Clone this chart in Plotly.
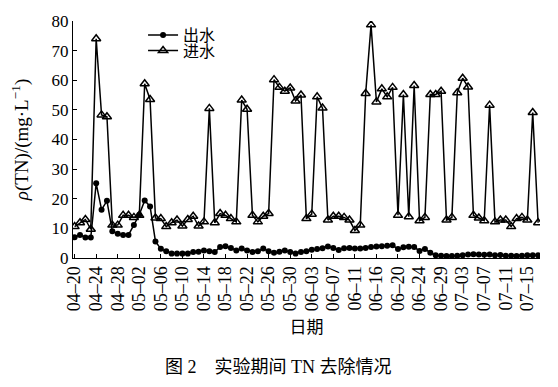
import plotly.graph_objects as go

dates = [
    "04-20", "04-21", "04-22", "04-23", "04-24", "04-25", "04-26", "04-27", "04-28", "04-29", "04-30",
    "05-01", "05-02", "05-03", "05-04", "05-05", "05-06", "05-07", "05-08", "05-09", "05-10",
    "05-11", "05-12", "05-13", "05-14", "05-15", "05-16", "05-17", "05-18", "05-19", "05-20",
    "05-21", "05-22", "05-23", "05-24", "05-25", "05-26", "05-27", "05-28", "05-29", "05-30", "05-31",
    "06-01", "06-02", "06-03", "06-04", "06-05", "06-06", "06-07", "06-08", "06-09", "06-10",
    "06-11", "06-12", "06-14", "06-15", "06-16", "06-17", "06-18", "06-19", "06-20",
    "06-21", "06-22", "06-23", "06-24", "06-25", "06-26", "06-28", "06-29", "06-30",
    "07-01", "07-02", "07-03", "07-04", "07-05", "07-06", "07-07", "07-08", "07-09", "07-10",
    "07-11", "07-12", "07-13", "07-14", "07-15", "07-16", "07-17",
]

influent = [
    10.6, 11.9, 13.0, 9.7, 74.0, 48.3, 47.7, 11.1, 11.1, 14.4,
    14.4, 13.7, 14.4, 58.8, 53.5, 13.5, 13.3, 10.6, 11.9, 12.8,
    10.8, 13.0, 14.1, 10.8, 12.2, 50.5, 11.9, 15.0, 14.4, 13.3,
    12.2, 53.3, 50.2, 14.4, 12.2, 14.1, 15.0, 60.2, 57.6, 56.3,
    57.4, 53.0, 55.0, 13.3, 14.8, 54.4, 50.6, 12.8, 14.1, 14.1,
    13.7, 12.8, 9.3, 11.1, 55.5, 78.7, 52.7, 57.1, 54.4, 57.6,
    14.4, 55.2, 13.9, 58.2, 12.6, 13.7, 55.2, 55.2, 56.3, 12.8,
    13.7, 55.8, 60.7, 57.7, 14.4, 13.5, 12.6, 51.6, 12.2, 12.8,
    12.8, 10.6, 13.3, 13.7, 12.8, 49.1, 11.9,
]

effluent = [
    7.0, 7.8, 6.9, 6.9, 25.2, 16.3, 19.3, 9.0, 8.2, 7.8,
    7.8, 11.1, 14.6, 19.4, 17.4, 5.6, 3.1, 2.3, 1.5, 1.5,
    1.5, 1.5, 2.0, 2.1, 2.5, 2.3, 2.0, 3.7, 4.0, 3.4,
    2.5, 3.2, 2.5, 2.0, 2.3, 3.2, 2.3, 1.8, 2.1, 2.5,
    2.0, 1.5, 2.0, 2.3, 2.8, 3.0, 3.3, 3.9, 3.4, 2.7,
    3.3, 3.4, 3.2, 3.2, 3.4, 3.7, 3.9, 4.0, 4.1, 4.3,
    3.0, 3.6, 3.8, 3.7, 2.4, 3.0, 1.8, 0.9, 0.8, 0.7,
    0.7, 0.8, 0.9, 1.2, 1.3, 1.2, 1.1, 1.2, 0.9, 1.0,
    0.8, 0.8, 0.7, 0.8, 0.9, 0.9, 0.9,
]

tick_labels = [
    "04-20", "04-24", "04-28", "05-02", "05-06", "05-10", "05-14", "05-18",
    "05-22", "05-26", "05-30", "06-03", "06-07", "06-11", "06-16", "06-20",
    "06-24", "06-29", "07-03", "07-07", "07-11", "07-15",
]
y_ticks = [0, 10, 20, 30, 40, 50, 60, 70, 80]

FONT = "Liberation Serif, Noto Sans CJK SC, serif"

fig = go.Figure()
fig.add_trace(go.Scatter(
    x=dates, y=effluent, name="出水", mode="lines+markers",
    line=dict(color="black", width=1.5),
    marker=dict(symbol="circle", size=6, color="black"),
    legend="legend",
))
fig.add_trace(go.Scatter(
    x=dates, y=influent, name="进水", mode="lines+markers",
    line=dict(color="black", width=1.5),
    marker=dict(symbol="triangle-up-open", size=8, color="black",
                line=dict(width=1.5, color="black")),
    legend="legend2",
))

leg_common = dict(xanchor="left", yanchor="middle",
                  bgcolor="rgba(0,0,0,0)", font=dict(size=16, family=FONT), itemwidth=30)

fig.update_layout(
    width=558, height=387,
    margin=dict(l=65, r=26, t=10, b=137),
    paper_bgcolor="white", plot_bgcolor="white",
    font=dict(family=FONT, size=17, color="black"),
    showlegend=True,
    legend=dict(x=0.15, y=0.94, **leg_common),
    legend2=dict(x=0.15, y=0.875, **leg_common),
    xaxis=dict(
        type="category", categoryorder="array", categoryarray=dates,
        range=[-0.3, 86.35],
        tickmode="array",
        tickvals=tick_labels,
        ticktext=[d.replace("-", "–") for d in tick_labels],
        tickangle=-90, ticks="inside", ticklen=4, tickcolor="black",
        showline=True, linecolor="black", linewidth=1,
        showgrid=False, zeroline=False, automargin=False,
        tickfont=dict(size=18, family=FONT),
        title=dict(text="日期", font=dict(size=17, family=FONT), standoff=10),
    ),
    yaxis=dict(
        range=[0, 80], tickvals=y_ticks,
        ticks="inside", ticklen=4, tickcolor="black",
        showline=True, linecolor="black", linewidth=1,
        showgrid=False, zeroline=False, automargin=False,
        tickfont=dict(size=17, family=FONT),
        title=dict(text="<i>ρ</i>(TN)/(mg·L<sup>−1</sup>)",
                   font=dict(size=19, family=FONT), standoff=26),
    ),
)

fig.add_annotation(
    text="图 2　实验期间 TN 去除情况", xref="paper", yref="paper",
    x=0.439, y=-0.458, xanchor="center", yanchor="middle", showarrow=False,
    font=dict(size=18, family=FONT),
)

fig.write_html("out.html")
